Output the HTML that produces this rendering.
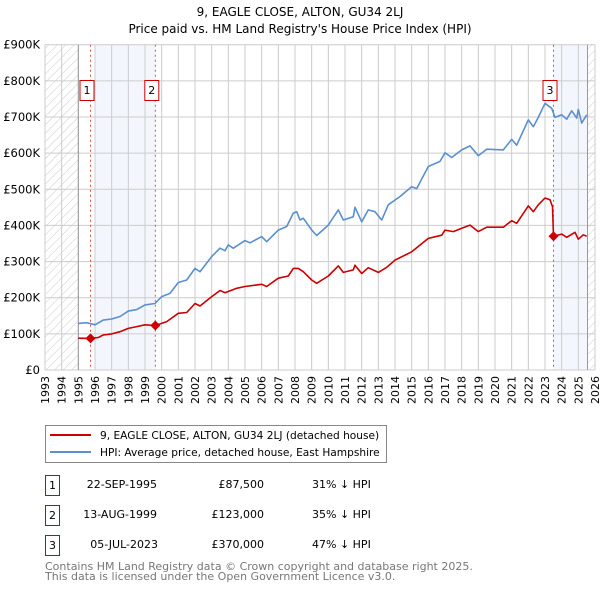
<!DOCTYPE html>
<html><head><meta charset="utf-8"><style>
body{margin:0;background:#fff;width:600px;height:590px;overflow:hidden}
svg{display:block;font-family:"DejaVu Sans","Liberation Sans",sans-serif}
</style></head><body>
<svg id="c" width="600" height="590" viewBox="0 0 600 590">
<defs><pattern id="hatch" width="6" height="6" patternUnits="userSpaceOnUse" patternTransform="rotate(45)"><line x1="0" y1="0" x2="0" y2="6" stroke="#ccc" stroke-width="1"/></pattern></defs>
<text x="300" y="16" text-anchor="middle" font-size="12">9, EAGLE CLOSE, ALTON, GU34 2LJ</text>
<text x="300" y="33" text-anchor="middle" font-size="12">Price paid vs. HM Land Registry's House Price Index (HPI)</text>
<g id="plot"></g>
<g>
<rect x="45.5" y="425.5" width="341" height="37" fill="#fff" stroke="#888"/>
<line x1="50" y1="435" x2="91" y2="435" stroke="#cc0000" stroke-width="2"/>
<text x="100" y="439" font-size="10.6">9, EAGLE CLOSE, ALTON, GU34 2LJ (detached house)</text>
<line x1="50" y1="452" x2="91" y2="452" stroke="#5b8fd0" stroke-width="2"/>
<text x="100" y="456" font-size="10.6">HPI: Average price, detached house, East Hampshire</text>
</g>
<g font-size="11">
<rect x="45.5" y="475.5" width="14" height="20" fill="#fff" stroke="#cc0000"/><text x="52.5" y="489" text-anchor="middle">1</text>
<text x="157" y="488" text-anchor="end">22-SEP-1995</text><text x="264" y="488" text-anchor="end">£87,500</text><text x="312" y="488">31% ↓ HPI</text>
<rect x="45.5" y="505.5" width="14" height="20" fill="#fff" stroke="#cc0000"/><text x="52.5" y="519" text-anchor="middle">2</text>
<text x="157" y="518" text-anchor="end">13-AUG-1999</text><text x="264" y="518" text-anchor="end">£123,000</text><text x="312" y="518">35% ↓ HPI</text>
<rect x="45.5" y="535.5" width="14" height="20" fill="#fff" stroke="#cc0000"/><text x="52.5" y="549" text-anchor="middle">3</text>
<text x="158" y="548" text-anchor="end">05-JUL-2023</text><text x="264" y="548" text-anchor="end">£370,000</text><text x="312" y="548">47% ↓ HPI</text>
</g>
<text x="45" y="570" font-size="11" fill="#777">Contains HM Land Registry data © Crown copyright and database right 2025.</text>
<text x="45" y="580" font-size="11" fill="#777">This data is licensed under the Open Government Licence v3.0.</text>
</svg>
<script>
const hpiYears=[1995,1995.5,1996,1996.5,1997,1997.5,1998,1998.5,1999,1999.6,2000,2000.5,2001,2001.5,2002,2002.3,2003,2003.5,2003.8,2004,2004.3,2005,2005.3,2006,2006.3,2007,2007.5,2007.9,2008.1,2008.3,2008.5,2009,2009.3,2010,2010.6,2010.9,2011.5,2011.6,2012,2012.4,2012.8,2013.2,2013.6,2014.3,2015,2015.3,2016,2016.7,2017,2017.4,2018,2018.5,2019,2019.5,2020.5,2021,2021.3,2022,2022.3,2022.6,2023,2023.4,2023.6,2024,2024.3,2024.6,2024.9,2025,2025.2,2025.5];
const hpiValues=[129,131,125,138,141,148,163,167,180,184,203,212,242,249,281,272,314,337,330,346,337,358,352,369,355,387,397,434,438,415,420,387,372,401,443,415,424,450,410,443,438,415,457,480,507,502,563,577,601,588,609,620,593,611,609,638,622,692,673,699,738,724,699,706,694,717,697,721,683,706];
const paidYears=[1995,1995.73,1996.2,1996.5,1997,1997.5,1998,1998.5,1999,1999.62,2000.3,2001,2001.5,2002,2002.3,2003,2003.5,2003.8,2004.5,2005,2006,2006.3,2007,2007.6,2007.9,2008.2,2008.5,2009,2009.3,2010,2010.6,2010.9,2011.5,2011.6,2012,2012.4,2013,2013.5,2014,2015,2016,2016.8,2017,2017.5,2018,2018.5,2019,2019.5,2020.5,2021,2021.3,2022,2022.3,2022.6,2023,2023.3,2023.45,2023.51,2024,2024.3,2024.8,2025,2025.3,2025.5];
const paidValues=[88,87.5,90,97,100,106,115,120,125,123,134,157,159,184,177,203,220,214,226,231,237,231,254,260,281,281,272,249,240,260,288,270,277,290,267,283,270,284,304,327,364,373,387,383,392,401,383,395,395,413,406,454,438,457,476,471,452,370,376,367,381,362,374,370];
const saleYears=[1995.73,1999.62,2023.51];
const saleValues=[87.5,123,370];
const saleLabels=["1","2","3"];
const yTicks=[0,100,200,300,400,500,600,700,800,900];
const yTickLabels=["£0","£100K","£200K","£300K","£400K","£500K","£600K","£700K","£800K","£900K"];
const xTicks=[];for(let y=1993;y<=2026;y++)xTicks.push(y);
const X0=45,X1=595,Y0=370,Y1=44.7;
const xs=y=>X0+(y-1993)*(X1-X0)/33;
const ys=v=>Y0-v*(Y0-Y1)/900;
const NS="http://www.w3.org/2000/svg";
const g=document.getElementById('plot');
function mk(t,a,p){const e=document.createElementNS(NS,t);for(const k in a)e.setAttribute(k,a[k]);(p||g).appendChild(e);return e;}
let e;
e=mk('rect',{x:X0,y:Y1,width:xs(1995)-X0,height:Y0-Y1,fill:'url(#hatch)'});


e=mk('rect',{x:xs(2025.55),y:Y1,width:X1-xs(2025.55),height:Y0-Y1,fill:'url(#hatch)'});


e=mk('rect',{x:xs(1996),y:Y1,width:xs(saleYears[1])-xs(1996),height:Y0-Y1,fill:'#eef3fc',opacity:0.7});


e=mk('rect',{x:xs(saleYears[2]),y:Y1,width:xs(2025.55)-xs(saleYears[2]),height:Y0-Y1,fill:'#eef3fc',opacity:0.7});


xTicks.forEach(y=>{
 e=mk('line',{x1:xs(y),x2:xs(y),y1:Y1,y2:Y0,stroke:'#ccc','stroke-width':1});
 
 
 e=mk('text',{x:0,y:0,'font-size':11,'text-anchor':'end',transform:`translate(${xs(y)+4},${Y0+6}) rotate(-90)`});
 e.textContent=y;
 
 
});
yTicks.forEach((v,i)=>{
 e=mk('line',{x1:X0,x2:X1,y1:ys(v),y2:ys(v),stroke:'#ccc','stroke-width':1});
 
 
 e=mk('text',{x:X0-5,y:ys(v)+4,'font-size':11.5,'text-anchor':'end'});
 e.textContent=yTickLabels[i];
 
 
});
e=mk('line',{x1:xs(1995),x2:xs(1995),y1:Y1,y2:Y0,stroke:'#999'});


e=mk('line',{x1:xs(2025.55),x2:xs(2025.55),y1:Y1,y2:Y0,stroke:'#999'});


saleYears.forEach((y,i)=>{
 e=mk('line',{x1:xs(y),x2:xs(y),y1:Y1,y2:Y0,stroke:'#e05050','stroke-dasharray':'2,3','stroke-width':1});
 
 
});
function line(xa,va,col,name){
 const d=xa.map((y,i)=>(i?'L':'M')+xs(y).toFixed(1)+','+ys(va[i]).toFixed(1)).join('');
 e=mk('path',{d:d,fill:'none',stroke:col,'stroke-width':1.6,'stroke-linejoin':'round'});
 
 
}
line(hpiYears,hpiValues,'#5b8fd0','hpi-line');
line(paidYears,paidValues,'#cc0000','price-paid-line');
saleYears.forEach((y,i)=>{
 const cx=xs(y),cy=ys(saleValues[i]);
 e=mk('path',{d:`M${cx},${cy-5}L${cx+5},${cy}L${cx},${cy+5}L${cx-5},${cy}Z`,fill:'#cc0000'});
 
 
 e=mk('rect',{x:(cx-10.5).toFixed(1),y:80.5,width:14,height:20,fill:'#fff',stroke:'#cc0000'});
 
 
 e=mk('text',{x:(cx-3.5).toFixed(1),y:94,'font-size':11,'text-anchor':'middle'});
 e.textContent=saleLabels[i];
 
 
});
</script>
</body></html>
